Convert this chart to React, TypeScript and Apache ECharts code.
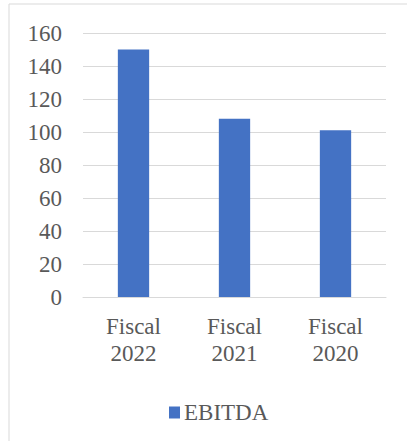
import React, { useEffect, useRef } from "react";
import * as echarts from "echarts";

const categories = ["Fiscal\n2022", "Fiscal\n2021", "Fiscal\n2020"];
const ebitda = [150, 108, 101];
const seriesName = "EBITDA";

export default function App() {
  const ref = useRef<HTMLDivElement>(null);
  useEffect(() => {
    document.body.style.margin = "0";
    const chart = echarts.init(ref.current!, null, { renderer: "svg" });
    const font = "'Liberation Serif', 'Times New Roman', serif";
    chart.setOption({
      animation: false,
      textStyle: { fontFamily: font },
      graphic: [
        {
          type: "rect",
          shape: { x: 9, y: 4, width: 420, height: 460 },
          style: { fill: "none", stroke: "#d9d9d9", lineWidth: 1 },
          silent: true,
        },
      ],
      grid: { left: 83, right: 21, top: 33, bottom: 144 },
      legend: {
        data: [seriesName],
        left: 164,
        top: 396,
        icon: "rect",
        itemWidth: 11,
        itemHeight: 12,
        itemGap: 10,
        textStyle: { fontFamily: font, fontSize: 23, color: "#595959", padding: [0, 0, 0, -1] },
      },
      xAxis: {
        type: "category",
        data: categories,
        axisLine: { lineStyle: { color: "#d9d9d9", width: 1 } },
        axisTick: { show: false },
        axisLabel: { fontFamily: font, fontSize: 23, color: "#595959", lineHeight: 27, margin: 16 },
      },
      yAxis: {
        type: "value",
        min: 0,
        max: 160,
        interval: 20,
        axisLine: { show: false },
        axisTick: { show: false },
        splitLine: { lineStyle: { color: "#d9d9d9", width: 1 } },
        axisLabel: { fontFamily: font, fontSize: 23, color: "#595959", margin: 21 },
      },
      series: [
        {
          name: seriesName,
          type: "bar",
          data: ebitda,
          barWidth: "31%",
          itemStyle: { color: "#4472C4" },
        },
      ],
    });
    return () => chart.dispose();
  }, []);
  return <div ref={ref} style={{ width: 407, height: 441 }} />;
}
